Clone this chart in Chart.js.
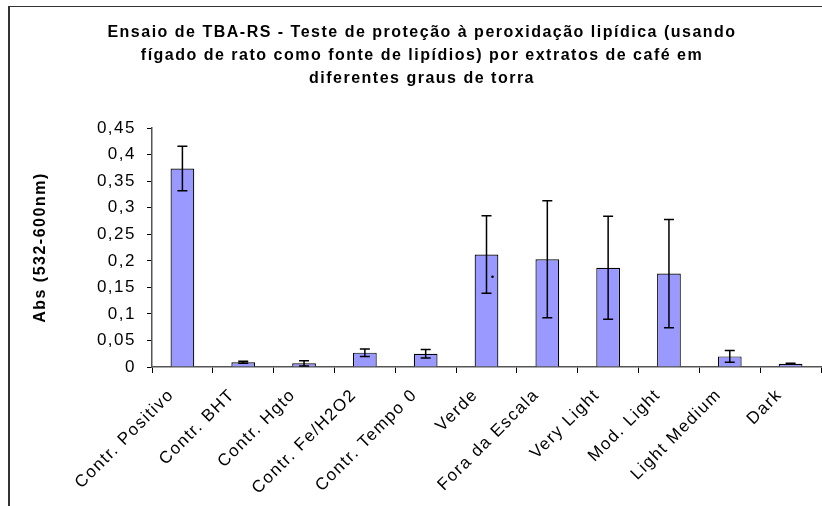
<!DOCTYPE html>
<html>
<head>
<meta charset="utf-8">
<script src="https://cdn.jsdelivr.net/npm/chart.js@4.4.1/dist/chart.umd.min.js"></script>
<style>
  html, body { margin: 0; padding: 0; background: #fff; overflow: hidden; }
  #wrap { position: relative; width: 822px; height: 506px; }
  #frame { position: absolute; left: 8px; top: 6px; width: 900px; height: 600px;
           border-left: 2px solid #333; border-top: 1px solid #333; }
  #chart { position: absolute; left: 0; top: 0; }
</style>
</head>
<body>
<div id="wrap">
  <div id="frame"></div>
  <canvas id="chart" width="822" height="506"></canvas>
</div>
<script>
// chart data
const categories = ['Contr. Positivo', 'Contr. BHT', 'Contr. Hgto', 'Contr. Fe/H2O2', 'Contr. Tempo 0',
    'Verde', 'Fora da Escala', 'Very Light', 'Mod. Light', 'Light Medium', 'Dark'];
const absValues = [0.374, 0.009, 0.007, 0.027, 0.025, 0.212, 0.203, 0.187, 0.176, 0.020, 0.006];
const errValues = [0.042, 0.002, 0.005, 0.007, 0.008, 0.073, 0.110, 0.097, 0.102, 0.011, 0.001];
// stray dot seen inside the "Verde" bar
const dotValues = [null, null, null, null, null, 0.17, null, null, null, null, null];
const yTicks = [0, 0.05, 0.1, 0.15, 0.2, 0.25, 0.3, 0.35, 0.4, 0.45];

const FONT = "'Liberation Sans', Arial, sans-serif";

// the original text is set wide, so add a little letter spacing
const wideText = {
    id: 'wideText',
    beforeUpdate(chart) { chart.ctx.letterSpacing = '1.5px'; },
    beforeDraw(chart) { chart.ctx.letterSpacing = '1.5px'; }
};

const errorBars = {
    id: 'errorBars',
    afterDatasetsDraw(chart) {
        const ctx = chart.ctx;
        const meta = chart.getDatasetMeta(0);
        const y = chart.scales.y;
        ctx.save();
        ctx.strokeStyle = '#000';
        ctx.lineWidth = 1.5;
        meta.data.forEach((bar, i) => {
            const top = y.getPixelForValue(absValues[i] + errValues[i]);
            const bot = y.getPixelForValue(absValues[i] - errValues[i]);
            ctx.beginPath();
            ctx.moveTo(bar.x, top);
            ctx.lineTo(bar.x, bot);
            ctx.moveTo(bar.x - 5, top);
            ctx.lineTo(bar.x + 5, top);
            ctx.moveTo(bar.x - 5, bot);
            ctx.lineTo(bar.x + 5, bot);
            ctx.stroke();
            if (dotValues[i] !== null) {
                ctx.fillStyle = '#000';
                ctx.beginPath();
                ctx.arc(bar.x + 6, y.getPixelForValue(dotValues[i]), 1.3, 0, Math.PI * 2);
                ctx.fill();
            }
        });
        ctx.restore();
    }
};

new Chart(document.getElementById('chart').getContext('2d'), {
    type: 'bar',
    data: {
        labels: categories,
        datasets: [{
            label: 'Abs',
            data: absValues,
            backgroundColor: '#9999FF',
            borderColor: '#000',
            borderWidth: 1.2,
            barPercentage: 0.78,
            categoryPercentage: 0.5
        }]
    },
    options: {
        responsive: false,
        animation: false,
        layout: { padding: { left: 23, right: 1, top: 0, bottom: 0 } },
        plugins: {
            legend: { display: false },
            tooltip: { enabled: false },
            title: {
                display: true,
                text: ['Ensaio de TBA-RS - Teste de proteção à peroxidação lipídica (usando',
                       'fígado de rato como fonte de lipídios) por extratos de café em',
                       'diferentes graus de torra'],
                color: '#000',
                font: { family: FONT, size: 16, weight: 'bold', lineHeight: 1.44 },
                padding: { top: 21, bottom: 38 }
            }
        },
        scales: {
            x: {
                offset: true,
                grid: { offset: true, drawOnChartArea: false, color: '#000', tickLength: 6 },
                border: { color: '#555', width: 1.5 },
                ticks: {
                    color: '#000',
                    font: { family: FONT, size: 17 },
                    minRotation: 45, maxRotation: 45,
                    autoSkip: false,
                    labelOffset: -11,
                    padding: 12
                },
                afterFit(scale) { scale.height = 139; }
            },
            y: {
                min: 0,
                max: 0.45,
                afterBuildTicks(scale) { scale.ticks = yTicks.map(v => ({ value: v })); },
                grid: { drawOnChartArea: false, color: '#000', tickLength: 5 },
                border: { color: '#555', width: 1.5 },
                ticks: {
                    color: '#000',
                    font: { family: FONT, size: 17 },
                    padding: 11,
                    callback: v => String(Math.round(v * 100) / 100).replace('.', ',')
                },
                title: {
                    display: true,
                    text: 'Abs (532-600nm)',
                    color: '#000',
                    font: { family: FONT, size: 16, weight: 'bold' },
                    padding: { top: 8, bottom: 20 }
                },
                afterFit(scale) { scale.width = 129; }
            }
        }
    },
    plugins: [wideText, errorBars]
});
</script>
</body>
</html>
